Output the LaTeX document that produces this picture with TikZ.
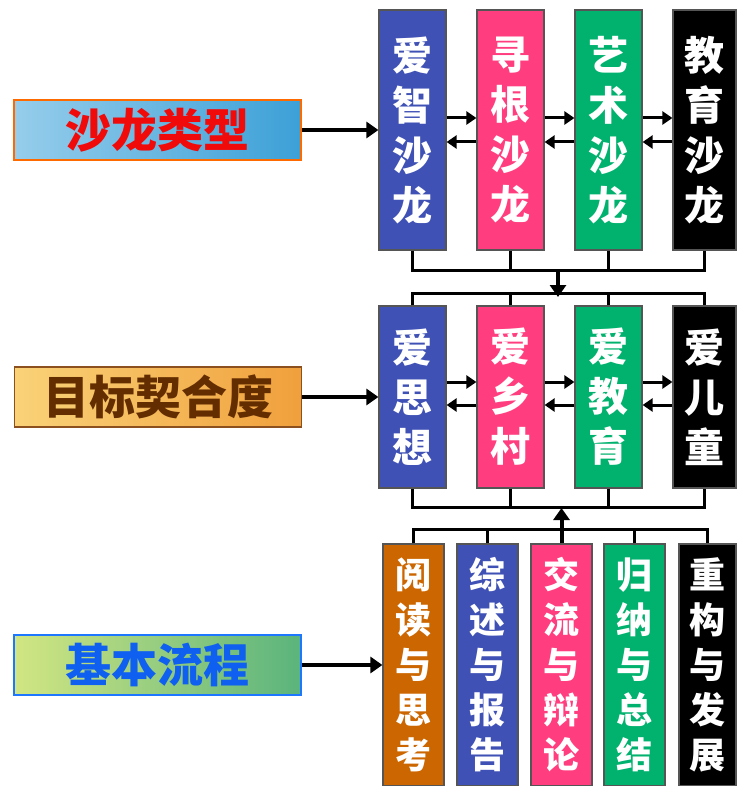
\documentclass[tikz,border=0pt]{standalone}
\usepackage{fontspec}
\newfontfamily\cjk{Noto Sans CJK SC}
\usetikzlibrary{arrows.meta}
\definecolor{salonblue}{HTML}{3F51B5}
\definecolor{salonpink}{HTML}{FF3D7F}
\definecolor{salongreen}{HTML}{00B26E}
\definecolor{salonorange}{HTML}{CC6600}
\definecolor{boxgray}{HTML}{555555}
\begin{document}
\begin{tikzpicture}[x=1pt, y=-1pt,
label/.style={rectangle, line width=1.5pt, minimum width=287pt, minimum height=60pt, inner sep=0pt, font=\cjk\bfseries\fontsize{46}{46}\selectfont},
column/.style={rectangle, draw=boxgray, line width=1.2pt, text=white, align=center, inner sep=0pt, font=\cjk\bfseries\fontsize{40}{50}\selectfont},
tall/.style={column, minimum height=240pt},
mid/.style={column, minimum height=182pt},
low/.style={column, minimum height=242pt, minimum width=61pt, font=\cjk\bfseries\fontsize{36}{45}\selectfont},
bus/.style={line width=3pt},
flow/.style={line width=4pt, -{Triangle[length=12pt, width=16pt]}},
swap/.style={line width=3pt, -{Triangle[length=10pt, width=13pt]}},
]
\useasboundingbox (0,0) rectangle (736,786);
% left labels
\node[label, draw={rgb,255:red,255;green,106;blue,0}, left color={rgb,255:red,150;green,205;blue,235}, right color={rgb,255:red,60;green,160;blue,215}, text={rgb,255:red,240;green,10;blue,10}] (type) at (157.5,130) {沙龙类型};
\node[label, draw={rgb,255:red,140;green,80;blue,30}, left color={rgb,255:red,250;green,210;blue,120}, right color={rgb,255:red,240;green,160;blue,60}, text={rgb,255:red,100;green,45;blue,0}] (goal) at (158,397) {目标契合度};
\node[label, draw={rgb,255:red,30;green,120;blue,255}, left color={rgb,255:red,210;green,230;blue,130}, right color={rgb,255:red,90;green,180;blue,125}, text={rgb,255:red,15;green,95;blue,240}] (flowlabel) at (157.5,665) {基本流程};
% salon types
\node[tall, fill=salonblue, minimum width=67pt] (aizhi) at (412.5,130) {爱\\智\\沙\\龙};
\node[tall, fill=salonpink, minimum width=67pt] (xungen) at (510.5,130) {寻\\根\\沙\\龙};
\node[tall, fill=salongreen, minimum width=67pt] (yishu) at (608.5,130) {艺\\术\\沙\\龙};
\node[tall, fill=black, minimum width=63pt] (jiaoyu) at (704.5,130) {教\\育\\沙\\龙};
% goals
\node[mid, fill=salonblue, minimum width=67pt] (sixiang) at (412.5,397) {爱\\思\\想};
\node[mid, fill=salonpink, minimum width=67pt] (xiangcun) at (510.5,397) {爱\\乡\\村};
\node[mid, fill=salongreen, minimum width=67pt] (jiaoyu2) at (608.5,397) {爱\\教\\育};
\node[mid, fill=black, minimum width=63pt] (ertong) at (704.5,397) {爱\\儿\\童};
% basic steps
\node[low, fill=salonorange] (yuedu) at (413.5,665) {阅\\读\\与\\思\\考};
\node[low, fill=salonblue] (zongshu) at (487.5,665) {综\\述\\与\\报\\告};
\node[low, fill=salonpink] (jiaoliu) at (561.5,665) {交\\流\\与\\辩\\论};
\node[low, fill=salongreen] (guina) at (634.5,665) {归\\纳\\与\\总\\结};
\node[low, fill=black, minimum width=57pt] (chonggou) at (707.5,665) {重\\构\\与\\发\\展};
% labels to columns
\draw[flow] (type.east) -- (aizhi.west);
\draw[flow] (goal.east) -- (sixiang.west);
\draw[flow] (flowlabel.east) -- (yuedu.west);
% arrows between columns
\foreach \a/\b in {aizhi/xungen, xungen/yishu, yishu/jiaoyu} {
  \draw[swap] ([yshift=12pt]\a.east) -- ([yshift=12pt]\b.west);
  \draw[swap] ([yshift=-12pt]\b.west) -- ([yshift=-12pt]\a.east);
}
\foreach \a/\b in {sixiang/xiangcun, xiangcun/jiaoyu2, jiaoyu2/ertong} {
  \draw[swap] ([yshift=15pt]\a.east) -- ([yshift=15pt]\b.west);
  \draw[swap] ([yshift=-8pt]\b.west) -- ([yshift=-8pt]\a.east);
}
% buses
\coordinate (busA) at (558,270);
\coordinate (busB) at (558,293);
\coordinate (busC) at (557,507);
\coordinate (busD) at (557,529);
\draw[bus] (aizhi.south) -- (aizhi.south |- busA) -- (jiaoyu.south |- busA) -- (jiaoyu.south);
\foreach \n in {xungen, yishu} \draw[bus] (\n.south) -- (\n.south |- busA);
\draw[bus] (sixiang.north) -- (sixiang.north |- busB) -- (ertong.north |- busB) -- (ertong.north);
\foreach \n in {xiangcun, jiaoyu2} \draw[bus] (\n.north) -- (\n.north |- busB);
\draw[flow] (busA) -- ([yshift=-4pt]busB);
\draw[bus] (sixiang.south) -- (sixiang.south |- busC) -- (ertong.south |- busC) -- (ertong.south);
\foreach \n in {xiangcun, jiaoyu2} \draw[bus] (\n.south) -- (\n.south |- busC);
\draw[bus] (yuedu.north) -- (yuedu.north |- busD) -- (chonggou.north |- busD) -- (chonggou.north);
\foreach \n in {zongshu, guina} \draw[bus] (\n.north) -- (\n.north |- busD);
\draw[flow] (jiaoliu.north) -- ([yshift=-1pt]jiaoliu.north |- busC);
\end{tikzpicture}
\end{document}
